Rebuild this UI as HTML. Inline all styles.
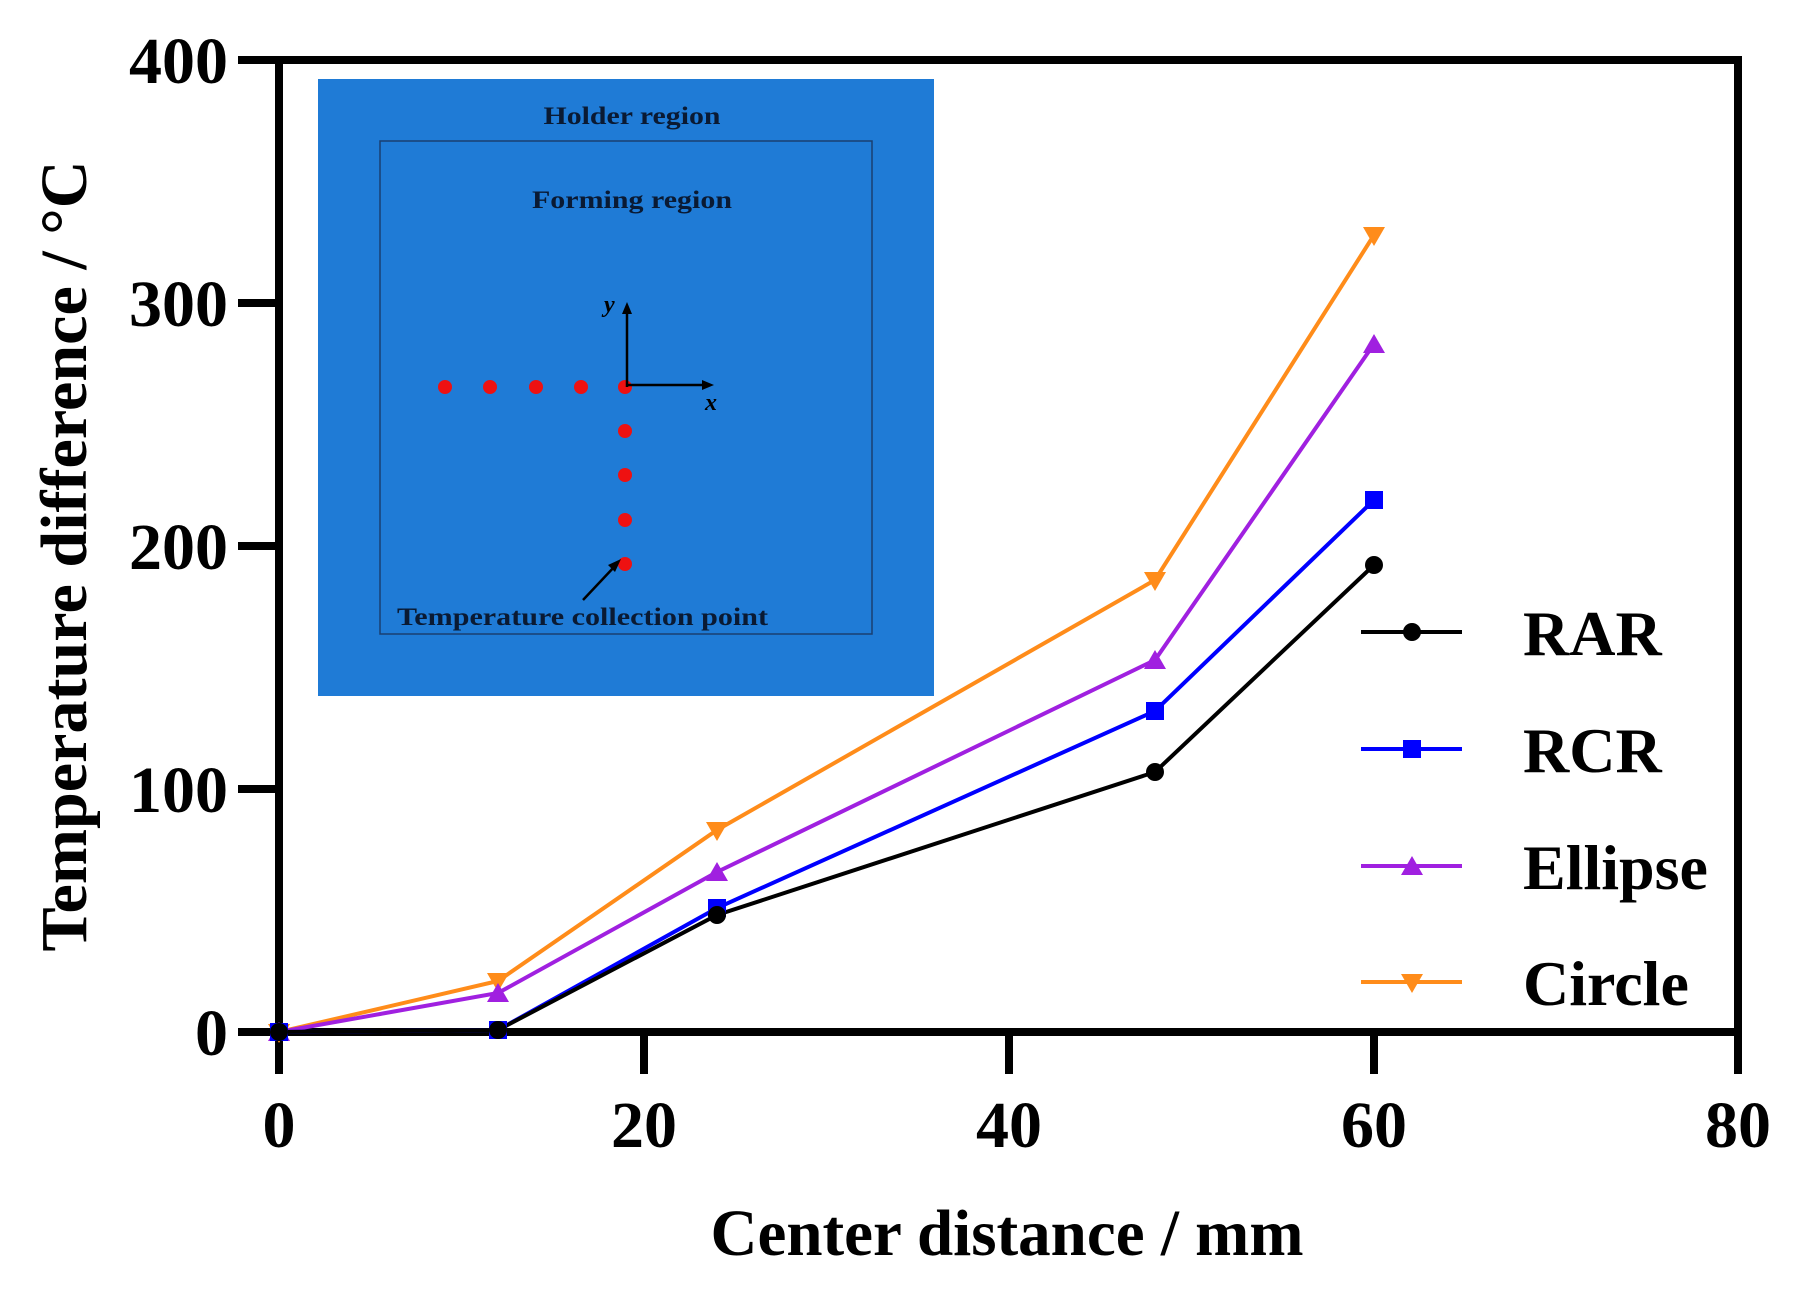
<!DOCTYPE html>
<html><head><meta charset="utf-8"><style>html,body{margin:0;padding:0;background:#fff}svg{display:block}</style></head>
<body>
<svg width="1798" height="1292" viewBox="0 0 1798 1292" xmlns="http://www.w3.org/2000/svg" font-family="Liberation Serif, serif" font-weight="bold">
<!-- inset -->
<rect x="318" y="79" width="616" height="617" fill="#1f7bd6"/>
<rect x="380" y="141" width="492" height="493" fill="none" stroke="#1a3f70" stroke-width="1.5"/>
<text x="632" y="124" font-size="25" text-anchor="middle" textLength="177" lengthAdjust="spacingAndGlyphs" fill="#0a1a33">Holder region</text>
<text x="632" y="208" font-size="25" text-anchor="middle" textLength="200" lengthAdjust="spacingAndGlyphs" fill="#0a1a33">Forming region</text>
<text x="397" y="625" font-size="25" textLength="371" lengthAdjust="spacingAndGlyphs" fill="#0a1a33">Temperature collection point</text>
<g fill="#ee1111">
<circle cx="445" cy="387" r="7"/><circle cx="490" cy="387" r="7"/><circle cx="536" cy="387" r="7"/><circle cx="581" cy="387" r="7"/><circle cx="625" cy="387" r="7"/>
<circle cx="625" cy="431" r="7"/><circle cx="625" cy="475" r="7"/><circle cx="625" cy="520" r="7"/><circle cx="625" cy="564" r="7"/>
</g>
<g stroke="#000" stroke-width="2.5" fill="#000">
<line x1="627" y1="387" x2="627" y2="310"/><polygon points="627,302 622,314 632,314" stroke="none"/>
<line x1="627" y1="385" x2="705" y2="385"/><polygon points="714,385 702,380 702,390" stroke="none"/>
<line x1="583" y1="600" x2="615" y2="566"/><polygon points="621,559 608,565 615,572" stroke="none"/>
</g>
<text x="604" y="312" font-size="24" font-style="italic" fill="#000">y</text>
<text x="705" y="410" font-size="24" font-style="italic" fill="#000">x</text>
<!-- frame -->
<g stroke="#000" stroke-width="8" fill="none">
<rect x="279" y="60" width="1459" height="972"/>
<line x1="238" y1="60" x2="279" y2="60"/>
<line x1="238" y1="303" x2="279" y2="303"/>
<line x1="238" y1="546" x2="279" y2="546"/>
<line x1="238" y1="789" x2="279" y2="789"/>
<line x1="238" y1="1032" x2="279" y2="1032"/>
<line x1="279" y1="1032" x2="279" y2="1074"/>
<line x1="644" y1="1032" x2="644" y2="1074"/>
<line x1="1009" y1="1032" x2="1009" y2="1074"/>
<line x1="1374" y1="1032" x2="1374" y2="1074"/>
<line x1="1738" y1="1032" x2="1738" y2="1074"/>
</g>
<g font-size="66" fill="#000" text-anchor="end">
<text x="228" y="83">400</text><text x="228" y="326">300</text><text x="228" y="569">200</text><text x="228" y="812">100</text><text x="228" y="1055">0</text>
</g>
<g font-size="66" fill="#000" text-anchor="middle">
<text x="279" y="1147">0</text><text x="644" y="1147">20</text><text x="1009" y="1147">40</text><text x="1374" y="1147">60</text><text x="1738" y="1147">80</text>
</g>
<text x="1007" y="1255" font-size="66" text-anchor="middle" textLength="593" lengthAdjust="spacingAndGlyphs">Center distance / mm</text>
<text transform="translate(86,556) rotate(-90)" font-size="66" text-anchor="middle" textLength="791" lengthAdjust="spacingAndGlyphs">Temperature difference  / °C</text>
<!-- series: x = 279 + 18.25*v ; y = 1032 - 2.43*v -->
<polyline fill="none" stroke="#ff8c1a" stroke-width="4" points="279,1032 498,981 717,830 1155,580 1374,235"/>
<polyline fill="none" stroke="#a020e0" stroke-width="4" points="279,1032 498,993 717,872 1155,660 1374,344"/>
<polyline fill="none" stroke="#0000ff" stroke-width="4" points="279,1032 498,1030 717,908 1155,711 1374,500"/>
<polyline fill="none" stroke="#000" stroke-width="4" points="279,1032 498,1030 717,915 1155,772 1374,565"/>
<g fill="#ff8c1a"><path d="M268,1024h22l-11,19z"/><path d="M487,973h22l-11,19z"/><path d="M706,822h22l-11,19z"/><path d="M1144,572h22l-11,19z"/><path d="M1363,227h22l-11,19z"/></g>
<g fill="#a020e0"><path d="M268,1041h22l-11,-19z"/><path d="M487,1002h22l-11,-19z"/><path d="M706,881h22l-11,-19z"/><path d="M1144,669h22l-11,-19z"/><path d="M1363,353h22l-11,-19z"/></g>
<g fill="#0000ff"><rect x="270" y="1023" width="18" height="18"/><rect x="489" y="1021" width="18" height="18"/><rect x="708" y="899" width="18" height="18"/><rect x="1146" y="702" width="18" height="18"/><rect x="1365" y="491" width="18" height="18"/></g>
<g fill="#000"><circle cx="279" cy="1032" r="9"/><circle cx="498" cy="1030" r="9"/><circle cx="717" cy="915" r="9"/><circle cx="1155" cy="772" r="9"/><circle cx="1374" cy="565" r="9"/></g>
<!-- legend -->
<line x1="1361" y1="632" x2="1462" y2="632" stroke="#000" stroke-width="4"/><circle cx="1412" cy="632" r="9" fill="#000"/>
<line x1="1361" y1="749" x2="1462" y2="749" stroke="#0000ff" stroke-width="4"/><rect x="1403" y="740" width="18" height="18" fill="#0000ff"/>
<line x1="1361" y1="866" x2="1462" y2="866" stroke="#a020e0" stroke-width="4"/><path d="M1401,875h22l-11,-19z" fill="#a020e0"/>
<line x1="1361" y1="982" x2="1462" y2="982" stroke="#ff8c1a" stroke-width="4"/><path d="M1401,974h22l-11,19z" fill="#ff8c1a"/>
<g font-size="64" fill="#000">
<text x="1523" y="655">RAR</text><text x="1523" y="772">RCR</text><text x="1523" y="889">Ellipse</text><text x="1523" y="1005">Circle</text>
</g>
</svg>
</body></html>
